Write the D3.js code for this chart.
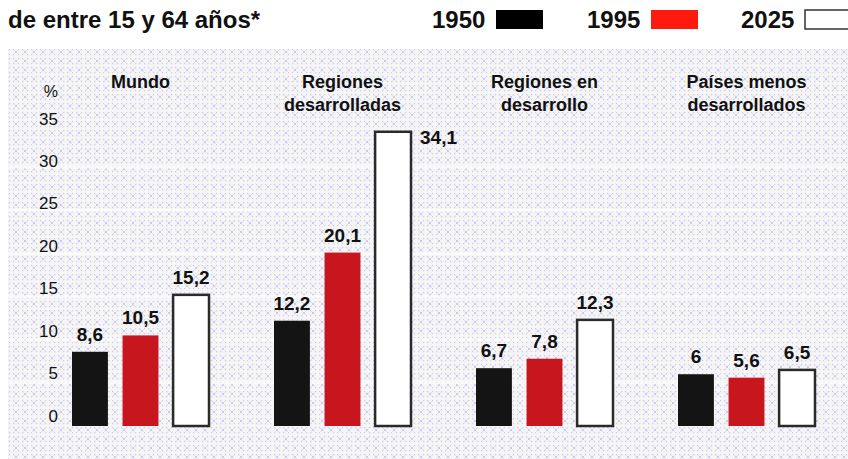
<!DOCTYPE html>
<html>
<head>
<meta charset="utf-8">
<script src="https://cdn.jsdelivr.net/npm/d3@7"></script>
<style>
  body { margin: 0; background: #fff; }
  text { font-family: "Liberation Sans", Arial, sans-serif; fill: #111; }
</style>
</head>
<body>
<div id="chart"></div>
<script>
// Data
var categories = ["Mundo", "Regiones desarrolladas", "Regiones en desarrollo", "Países menos desarrollados"];
var categoryLines = [["Mundo"], ["Regiones", "desarrolladas"], ["Regiones en", "desarrollo"], ["Países menos", "desarrollados"]];
var years = ["1950", "1995", "2025"];
var values1950 = [8.6, 12.2, 6.7, 6];
var values1995 = [10.5, 20.1, 7.8, 5.6];
var values2025 = [15.2, 34.1, 12.3, 6.5];
var labels1950 = ["8,6", "12,2", "6,7", "6"];
var labels1995 = ["10,5", "20,1", "7,8", "5,6"];
var labels2025 = ["15,2", "34,1", "12,3", "6,5"];
var yTicks = [0, 5, 10, 15, 20, 25, 30, 35];
var gridValues = [5, 10, 15, 20, 25, 30];

var svgWidth = 848;
var svgHeight = 459;

var svg = d3.select("#chart")
  .append("svg")
  .attr("width", svgWidth)
  .attr("height", svgHeight);

// background pattern (dots + little x's)
var defs = svg.append("defs");
var pat = defs.append("pattern")
  .attr("id", "bgpat")
  .attr("patternUnits", "userSpaceOnUse")
  .attr("width", 9)
  .attr("height", 9);
pat.append("rect").attr("width", 9).attr("height", 9).attr("fill", "#f5f5f8");
[[0, 0], [4, 0], [0, 4], [4, 4]].forEach(function (p) {
  pat.append("rect").attr("x", p[0]).attr("y", p[1]).attr("width", 1.2).attr("height", 1.2).attr("fill", "#d0d0d3");
});
pat.append("path")
  .attr("d", "M5.5,5.5 L8.5,8.5 M8.5,5.5 L5.5,8.5")
  .attr("stroke", "#c6c6f2")
  .attr("stroke-width", 0.9);

svg.append("rect")
  .attr("x", 8)
  .attr("y", 49)
  .attr("width", svgWidth - 8)
  .attr("height", svgHeight - 49)
  .attr("fill", "url(#bgpat)");

// Scales
var x0 = d3.scaleBand()
  .domain(categories)
  .range([38, 38 + 4 * 202]);

var x1 = d3.scaleBand()
  .domain(years)
  .range([34, 34 + 137])
  .paddingInner(0.29);

var y = d3.scaleLinear()
  .domain([0, 35])
  .range([426, 124]);

// tick labels sit a little off the bar scale in the original
var yLabel = d3.scaleLinear()
  .domain([0, 35])
  .range([421, 124]);

var color = d3.scaleOrdinal()
  .domain(years)
  .range(["#141414", "#c8161e", "#ffffff"]);

var legendColor = d3.scaleOrdinal()
  .domain(years)
  .range(["#000000", "#ff1a10", "#ffffff"]);

// light gridlines
svg.selectAll(".grid")
  .data(gridValues)
  .enter()
  .append("line")
  .attr("x1", 8)
  .attr("x2", svgWidth)
  .attr("y1", d => y(d))
  .attr("y2", d => y(d))
  .attr("stroke", "#ffffff")
  .attr("stroke-opacity", 0.6)
  .attr("stroke-width", 3);

// y axis labels
var yAxis = d3.axisLeft(yLabel)
  .tickValues(yTicks)
  .tickSize(0)
  .tickPadding(0)
  .tickFormat(d3.format("d"));

var axisG = svg.append("g")
  .attr("transform", "translate(58,0)")
  .call(yAxis);
axisG.select(".domain").remove();
axisG.selectAll("text")
  .attr("dy", 0)
  .style("font-family", "'Liberation Sans', Arial, sans-serif")
  .style("font-size", "17px")
  .attr("fill", "#111");

svg.append("text")
  .attr("x", 58)
  .attr("y", 97)
  .attr("text-anchor", "end")
  .style("font-size", "16px")
  .text("%");

// Bars
var rows = categories.map(function (c, i) {
  return {
    cat: c,
    bars: [
      { year: "1950", value: values1950[i], label: labels1950[i] },
      { year: "1995", value: values1995[i], label: labels1995[i] },
      { year: "2025", value: values2025[i], label: labels2025[i] }
    ]
  };
});

var groups = svg.selectAll(".group")
  .data(rows)
  .enter()
  .append("g")
  .attr("transform", d => `translate(${x0(d.cat)},0)`);

groups.selectAll("rect")
  .data(d => d.bars)
  .enter()
  .append("rect")
  .attr("x", d => x1(d.year))
  .attr("y", d => y(d.value))
  .attr("width", x1.bandwidth())
  .attr("height", d => y(0) - y(d.value))
  .attr("fill", d => color(d.year))
  .attr("stroke", d => d.year === "2025" ? "#2a2a2a" : "none")
  .attr("stroke-width", 2.5);

// value labels (34,1 goes beside its bar)
groups.selectAll(".val")
  .data(d => d.bars)
  .enter()
  .append("text")
  .attr("x", function (d) {
    if (d.value > 30) return x1(d.year) + x1.bandwidth() + 9;
    return x1(d.year) + x1.bandwidth() / 2;
  })
  .attr("y", function (d) {
    if (d.value > 30) return y(d.value) + 12;
    return y(d.value) - 11;
  })
  .attr("text-anchor", d => d.value > 30 ? "start" : "middle")
  .style("font-size", "19px")
  .style("font-weight", "bold")
  .text(d => d.label);

// group titles
groups.each(function (d, i) {
  var cx = x1("1950") + (x1("2025") + x1.bandwidth() - x1("1950")) / 2;
  var lines = categoryLines[i];
  var t = d3.select(this).append("text")
    .attr("text-anchor", "middle")
    .style("font-size", "18px")
    .style("font-weight", "bold");
  lines.forEach(function (ln, j) {
    t.append("tspan")
      .attr("x", cx)
      .attr("y", 88 + j * 23)
      .text(ln);
  });
});

// Title (second line only visible)
svg.append("text")
  .attr("x", 8)
  .attr("y", 28)
  .style("font-size", "24px")
  .style("font-weight", "bold")
  .text("de entre 15 y 64 años*");

// Legend
var legendX = [432, 587, 741];
var legend = svg.selectAll(".legend")
  .data(years)
  .enter()
  .append("g")
  .attr("transform", (d, i) => `translate(${legendX[i]},0)`);

legend.append("text")
  .attr("x", 0)
  .attr("y", 28)
  .style("font-size", "24px")
  .style("font-weight", "bold")
  .text(d => d);

legend.append("rect")
  .attr("x", 64)
  .attr("y", 10)
  .attr("width", 47)
  .attr("height", 19)
  .attr("fill", d => legendColor(d))
  .attr("stroke", d => d === "2025" ? "#333" : "none")
  .attr("stroke-width", 1.5);
</script>
</body>
</html>
